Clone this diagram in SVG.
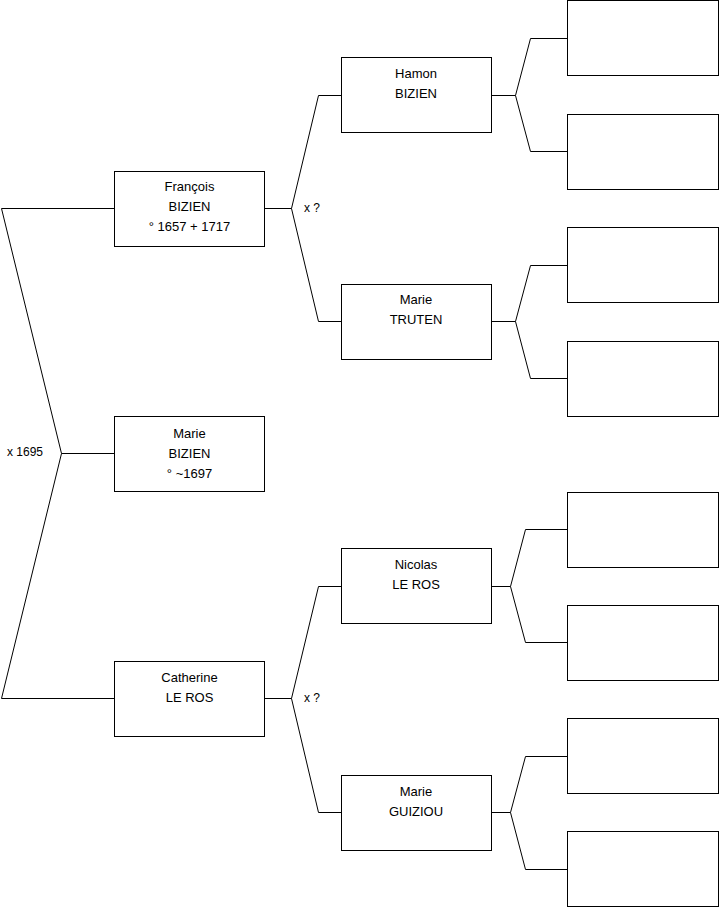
<svg xmlns="http://www.w3.org/2000/svg" width="719" height="908" viewBox="0 0 719 908">
<style>
.box{fill:#fff;stroke:#000;stroke-width:1}
.ln{fill:none;stroke:#000;stroke-width:1}
text{font-family:"Liberation Sans",Arial,sans-serif;font-size:12px;fill:#000}
.c{text-anchor:middle;font-size:13px}
</style>
<rect width="719" height="908" fill="#fff"/>
<g id="connectors">
<polyline class="ln" points="114,208.5 1.5,208.5 61.5,453.5 1.5,698.5 114,698.5"/>
<line class="ln" x1="61.5" y1="453.5" x2="114" y2="453.5"/>
<polyline class="ln" points="341,95.5 318.5,95.5 291.5,208.5 318.5,321.5 341,321.5"/>
<line class="ln" x1="265" y1="208.5" x2="291.5" y2="208.5"/>
<polyline class="ln" points="341,586.5 318.5,586.5 291.5,698.5 318.5,812.5 341,812.5"/>
<line class="ln" x1="265" y1="698.5" x2="291.5" y2="698.5"/>
<polyline class="ln" points="567,38.5 530.5,38.5 515.5,95.5 530.5,151.5 567,151.5"/>
<line class="ln" x1="491" y1="95.5" x2="515.5" y2="95.5"/>
<polyline class="ln" points="567,265.5 530.5,265.5 515.5,321.5 530.5,378.5 567,378.5"/>
<line class="ln" x1="491" y1="321.5" x2="515.5" y2="321.5"/>
<polyline class="ln" points="567,529.5 525.5,529.5 510.5,586.5 525.5,642.5 567,642.5"/>
<line class="ln" x1="491" y1="586.5" x2="510.5" y2="586.5"/>
<polyline class="ln" points="567,756.5 525.5,756.5 510.5,812.5 525.5,869.5 567,869.5"/>
<line class="ln" x1="491" y1="812.5" x2="510.5" y2="812.5"/>
<text x="7" y="456">x 1695</text>
<text x="304" y="212">x ?</text>
<text x="304" y="702">x ?</text>
</g>
<g id="francois"><rect class="box" x="114.5" y="171.5" width="150" height="75"/>
<text class="c" x="189.5" y="191">François</text><text class="c" x="189.5" y="211">BIZIEN</text><text class="c" x="189.5" y="231">° 1657 + 1717</text></g>
<g id="marie-bizien"><rect class="box" x="114.5" y="416.5" width="150" height="75"/>
<text class="c" x="189.5" y="438">Marie</text><text class="c" x="189.5" y="458">BIZIEN</text><text class="c" x="189.5" y="478">° ~1697</text></g>
<g id="catherine"><rect class="box" x="114.5" y="661.5" width="150" height="75"/>
<text class="c" x="189.5" y="682">Catherine</text><text class="c" x="189.5" y="702">LE ROS</text></g>
<g id="hamon"><rect class="box" x="341.5" y="57.5" width="150" height="75"/>
<text class="c" x="416" y="78">Hamon</text><text class="c" x="416" y="98">BIZIEN</text></g>
<g id="marie-truten"><rect class="box" x="341.5" y="284.5" width="150" height="75"/>
<text class="c" x="416" y="304">Marie</text><text class="c" x="416" y="324">TRUTEN</text></g>
<g id="nicolas"><rect class="box" x="341.5" y="548.5" width="150" height="75"/>
<text class="c" x="416" y="569">Nicolas</text><text class="c" x="416" y="589">LE ROS</text></g>
<g id="marie-guiziou"><rect class="box" x="341.5" y="775.5" width="150" height="75"/>
<text class="c" x="416" y="796">Marie</text><text class="c" x="416" y="816">GUIZIOU</text></g>
<g id="empty1"><rect class="box" x="567.5" y="0.5" width="151" height="75"/></g>
<g id="empty2"><rect class="box" x="567.5" y="114.5" width="151" height="75"/></g>
<g id="empty3"><rect class="box" x="567.5" y="227.5" width="151" height="75"/></g>
<g id="empty4"><rect class="box" x="567.5" y="341.5" width="151" height="75"/></g>
<g id="empty5"><rect class="box" x="567.5" y="492.5" width="151" height="75"/></g>
<g id="empty6"><rect class="box" x="567.5" y="605.5" width="151" height="75"/></g>
<g id="empty7"><rect class="box" x="567.5" y="718.5" width="151" height="75"/></g>
<g id="empty8"><rect class="box" x="567.5" y="831.5" width="151" height="75"/></g>
</svg>
